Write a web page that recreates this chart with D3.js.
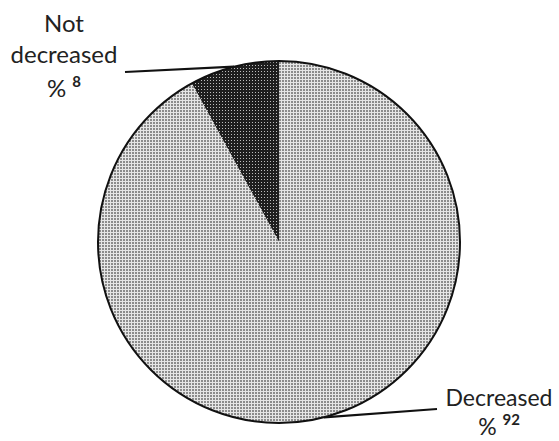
<!DOCTYPE html>
<html><head><meta charset="utf-8">
<script src="https://cdn.jsdelivr.net/npm/d3@7"></script>
<style>body{margin:0;background:#fff}svg{display:block}</style>
</head><body>
<svg id="c" width="559" height="441"></svg>
<script>
const categories = ["Not decreased", "Decreased"];
const values = [8, 92];
const labelLines = [["Not", "decreased"], ["Decreased"]];
const pctNumbers = ["8", "92"];

const svg = d3.select("#c");
const cx = 279, cy = 242, R = 181;
const defs = svg.append("defs");
const pl = defs.append("pattern").attr("id", "pLight").attr("width", 3).attr("height", 3).attr("patternUnits", "userSpaceOnUse");
pl.append("rect").attr("width", 3).attr("height", 3).attr("fill", "#e6e6e6");
pl.append("rect").attr("width", 2).attr("height", 2).attr("fill", "#8c8c8c");
const pd = defs.append("pattern").attr("id", "pDark").attr("width", 3).attr("height", 3).attr("patternUnits", "userSpaceOnUse");
pd.append("rect").attr("width", 3).attr("height", 3).attr("fill", "#1e1e1e");
pd.append("rect").attr("width", 1).attr("height", 1).attr("fill", "#bdbdbd");

const fills = d3.scaleOrdinal().domain(categories).range(["url(#pDark)", "url(#pLight)"]);
const total = d3.sum(values);
const start = -2 * Math.PI * values[0] / total;
const pie = d3.pie().sort(null).startAngle(start).endAngle(start + 2 * Math.PI);
const arcs = pie(values);
const arc = d3.arc().innerRadius(0).outerRadius(R);
const g = svg.append("g").attr("transform", `translate(${cx},${cy})`);
g.selectAll("path").data(arcs).join("path")
  .attr("d", arc)
  .attr("fill", (d, i) => fills(categories[i]))
  .attr("stroke", "none");
g.append("circle").attr("r", R).attr("fill", "none").attr("stroke", "#111").attr("stroke-width", 2);

// leader lines from slice mid-angle on the rim to labels
const labelAnchors = [[125, 72], [437, 409]];
arcs.forEach((a, i) => {
  const m = (a.startAngle + a.endAngle) / 2;
  const px = cx + R * Math.sin(m), py = cy - R * Math.cos(m);
  svg.append("line").attr("x1", px).attr("y1", py)
    .attr("x2", labelAnchors[i][0]).attr("y2", labelAnchors[i][1])
    .attr("stroke", "#111").attr("stroke-width", 2.2);
});

const font = "Lato, 'Open Sans', sans-serif";
const textBlocks = [{x: 64, y0: 32, py: 97, fs: 24}, {x: 499, y0: 406, py: 435, fs: 23}];
textBlocks.forEach((b, i) => {
  const lines = labelLines[i];
  lines.forEach((t, j) => {
    svg.append("text").attr("x", b.x).attr("y", b.y0 + j * 31)
      .attr("text-anchor", "middle").attr("font-family", font)
      .attr("font-size", b.fs).attr("fill", "#222").text(t);
  });
  const t = svg.append("text").attr("x", b.x).attr("y", b.py)
    .attr("text-anchor", "middle").attr("font-family", font).attr("fill", "#222");
  t.append("tspan").attr("font-size", b.fs).text("% ");
  t.append("tspan").attr("font-size", 15).attr("font-weight", "bold").attr("dy", -10).text(pctNumbers[i]);
});
</script>
</body></html>
